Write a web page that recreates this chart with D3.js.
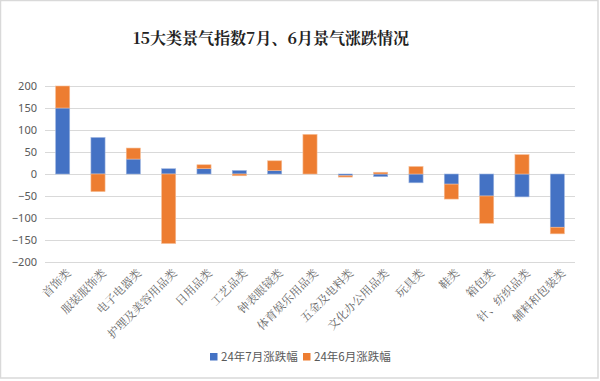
<!DOCTYPE html>
<html><head><meta charset="utf-8">
<script src="https://cdn.jsdelivr.net/npm/d3@7"></script>
<style>body{margin:0;background:#fff}svg{display:block}</style>
</head><body>
<script>
const categories = ["首饰类","服装服饰类","电子电器类","护理及美容用品类","日用品类","工艺品类","钟表眼镜类","体育娱乐用品类","五金及电料类","文化办公用品类","玩具类","鞋类","箱包类","针、纺织品类","辅料和包装类"];
const july = [150, 83, 34, 12, 12, 8, 8, 0, -4, -6, -20, -23, -50, -52, -121];
const june = [50, -40, 25, -158, 9, -4, 22, 90, -3, 4, 17, -34, -62, 44, -15];
const yTicks = [200, 150, 100, 50, 0, -50, -100, -150, -200];
const seriesNames = ["24年7月涨跌幅", "24年6月涨跌幅"];
const colors = ["#4472C4", "#ED7D31"];

const W = 600, H = 381;
const svg = d3.select("body").append("svg").attr("width", W).attr("height", H);
svg.append("rect").attr("x",0.5).attr("y",0.5).attr("width",597.5).attr("height",377.5)
  .attr("fill","#fff").attr("stroke","#d9d9d9").attr("stroke-width",1.5);

const x = d3.scaleBand().domain(categories).range([45, 575]).paddingInner(0.6).paddingOuter(0.3);
const y = d3.scaleLinear().domain([-200, 200]).range([262, 86]);

svg.append("text").attr("x", 271).attr("y", 44).attr("text-anchor","middle")
  .attr("font-family","'Noto Serif CJK SC','Noto Sans CJK SC',serif").attr("font-size",16).attr("font-weight","bold")
  .attr("fill","#222").text("15大类景气指数7月、6月景气涨跌情况");

// gridlines
svg.append("g").selectAll("line").data(yTicks).join("line")
  .attr("x1",45).attr("x2",575).attr("y1",d=>Math.round(y(d))+0.5).attr("y2",d=>Math.round(y(d))+0.5)
  .attr("stroke","#d9d9d9").attr("stroke-width",1);

// y axis labels
const yAxis = d3.axisLeft(y).tickValues(yTicks).tickSize(0).tickPadding(0);
const ga = svg.append("g").attr("transform","translate(37,0)").call(yAxis);
ga.select(".domain").remove();
ga.selectAll("text").attr("font-family","'Noto Sans',sans-serif").attr("font-size",11).attr("fill","#595959");

// stacked bars (positive and negative stacked separately)
const data = categories.map((c,i)=>({c, v:[july[i], june[i]]}));
const rects = [];
data.forEach(d=>{
  let pos = 0, neg = 0;
  d.v.forEach((v,si)=>{
    let y0, y1;
    if (v >= 0) { y0 = pos; y1 = pos + v; pos = y1; }
    else { y0 = neg; y1 = neg + v; neg = y1; }
    rects.push({c:d.c, si, y0, y1});
  });
});
svg.append("g").selectAll("rect").data(rects).join("rect")
  .attr("x", d=>x(d.c)).attr("width", x.bandwidth())
  .attr("y", d=>Math.min(y(d.y0), y(d.y1)))
  .attr("height", d=>Math.abs(y(d.y0)-y(d.y1)))
  .attr("fill", d=>colors[d.si])
  .attr("stroke", d=>d.si===0?"#9fb6e0":"#f6bd96").attr("stroke-width",0.6);

// x labels
svg.append("g").selectAll("text").data(categories).join("text")
  .attr("transform", d=>`translate(${x(d)+x.bandwidth()/2+6},${271}) rotate(-45)`)
  .attr("text-anchor","end").attr("dy","0.35em")
  .attr("font-family","'Noto Serif CJK SC','Noto Sans CJK SC',serif").attr("font-size",11.5)
  .attr("fill","#666").text(d=>d);

// legend
const lg = svg.append("g");
const legX = [210, 303];
seriesNames.forEach((n,i)=>{
  lg.append("rect").attr("x",legX[i]).attr("y",353).attr("width",7.5).attr("height",7.5).attr("fill",colors[i]);
  lg.append("text").attr("x",legX[i]+11).attr("y",357).attr("dy","0.35em")
    .attr("font-family","'Noto Sans CJK SC',sans-serif").attr("font-size",11.5).attr("fill","#595959").text(n);
});
</script>
</body></html>
